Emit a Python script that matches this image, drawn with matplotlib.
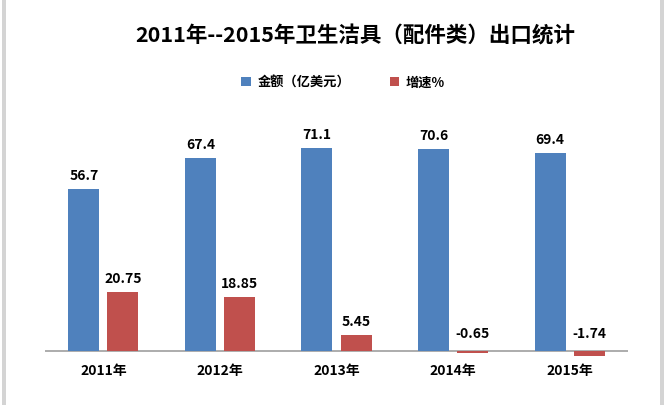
import matplotlib
matplotlib.use("Agg")
import matplotlib.pyplot as plt
import numpy as np
from matplotlib.patches import Rectangle

plt.rcParams['font.family'] = ['Noto Sans CJK SC', 'DejaVu Sans']

categories = ["2011年", "2012年", "2013年", "2014年", "2015年"]
amount = [56.7, 67.4, 71.1, 70.6, 69.4]
growth = [20.75, 18.85, 5.45, -0.65, -1.74]
amount_labels = ["56.7", "67.4", "71.1", "70.6", "69.4"]
growth_labels = ["20.75", "18.85", "5.45", "-0.65", "-1.74"]
series_names = ["金额（亿美元）", "增速%"]
title = "2011年--2015年卫生洁具（配件类）出口统计"

blue = "#4F81BD"
red = "#C0504D"

fig = plt.figure(figsize=(6.7, 4.06), dpi=100)
fig.patch.set_facecolor("white")

# frame stripes
fig.add_artist(Rectangle((2/670, 0), 4/670, 1, transform=fig.transFigure,
                         facecolor="#D4D4D4", edgecolor="none"))
fig.add_artist(Rectangle((660/670, 0), 4/670, 1, transform=fig.transFigure,
                         facecolor="#D4D4D4", edgecolor="none"))

ax = fig.add_axes([45/670, (406-360)/406, 583/670, 260/406])
x = np.arange(len(categories))
w = 0.266
gap = 0.069
off = (w + gap) / 2
b1 = ax.bar(x - off, amount, w, color=blue, label=series_names[0])
b2 = ax.bar(x + off, growth, w, color=red, label=series_names[1])

ax.set_xlim(-0.5, len(categories) - 0.5)
ax.set_ylim(-2.8, 88.2)
ax.axhline(0, color="#A6A6A6", lw=1.3, zorder=0)
for s in ax.spines.values():
    s.set_visible(False)
ax.set_yticks([])
ax.set_xticks(x)
ax.set_xticklabels(categories, fontsize=10, fontweight="bold")
ax.tick_params(axis="x", length=0, pad=3)

for xi, v, t in zip(x - off, amount, amount_labels):
    ax.annotate(t, (xi, v), xytext=(0, 5), textcoords="offset points",
                ha="center", va="bottom", fontsize=10, fontweight="bold")
for xi, v, t in zip(x + off, growth, growth_labels):
    ax.annotate(t, (xi, max(v, 0)), xytext=(0, 5 if v >= 0 else 8),
                textcoords="offset points",
                ha="center", va="bottom", fontsize=10, fontweight="bold")

fig.text(355/670, 1 - 36/406, title, ha="center", va="center",
         fontsize=15.5, fontweight="bold")

fig.legend(handles=[b1, b2], labels=series_names, loc="center",
           bbox_to_anchor=(343/670, 1 - 83/406), ncol=2, frameon=False,
           prop={"size": 9.5, "weight": "bold"}, handlelength=0.7,
           handleheight=0.7, columnspacing=3.0, handletextpad=0.5)

fig.savefig("out.png", dpi=100, facecolor="white")
